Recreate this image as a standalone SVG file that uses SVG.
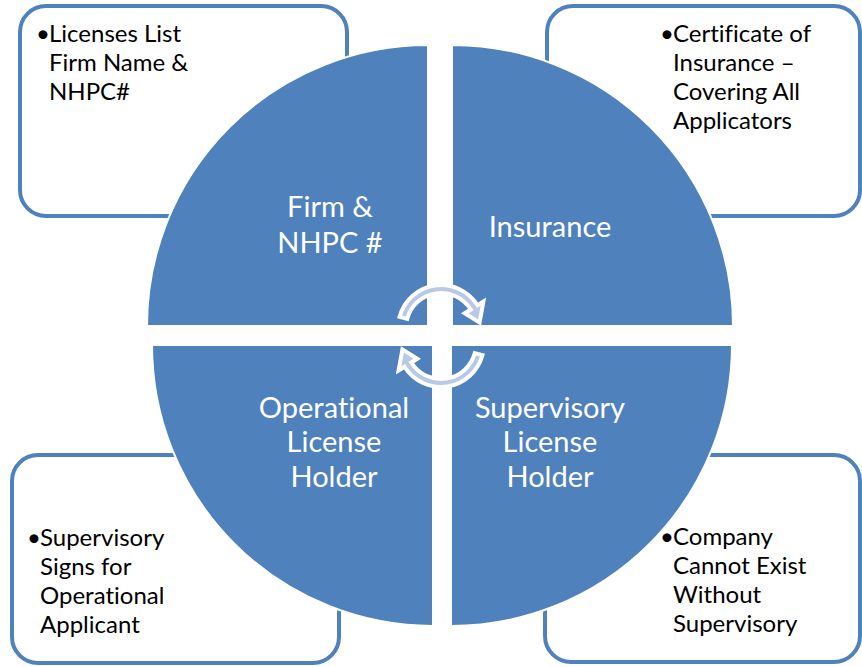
<svg xmlns="http://www.w3.org/2000/svg" width="862" height="667" viewBox="0 0 862 667">
<style>
.box{fill:#FFFFFF;stroke:#4F81BD;stroke-width:4}
.quad{fill:#4F81BD;stroke:#FFFFFF;stroke-width:2}
.arrow{fill:#B9C9E4;stroke:#FFFFFF;stroke-width:4;stroke-linejoin:miter}
.btxt{font-family:Lato,"Liberation Sans",sans-serif;font-size:24px;fill:#000000;font-variant-ligatures:none}
.qtxt{font-family:Lato,"Liberation Sans",sans-serif;font-size:29px;fill:#FFFFFF;text-anchor:middle;font-variant-ligatures:none}
</style>
<rect width="862" height="667" fill="#FFFFFF"/>
<g id="box-firm"><rect class="box" x="20" y="6" width="327" height="210" rx="26"/></g>
<g id="box-insurance"><rect class="box" x="547" y="6" width="313" height="210" rx="26"/></g>
<g id="box-operational"><rect class="box" x="12" y="455" width="327" height="208" rx="26"/></g>
<g id="box-supervisory"><rect class="box" x="545" y="455" width="315" height="207" rx="26"/></g>
<g id="quad-firm"><path class="quad" d="M428,326 L147,326 A281,281 0 0 1 428,45 Z"/></g>
<g id="quad-insurance"><path class="quad" d="M452,326 L452,45 A281,281 0 0 1 733,326 Z"/></g>
<g id="quad-supervisory"><path class="quad" d="M451,345 L732,345 A281,281 0 0 1 451,626 Z"/></g>
<g id="quad-operational"><path class="quad" d="M433,345 L433,626 A281,281 0 0 1 152,345 Z"/></g>
<g id="connectors">
<path class="arrow" d="M399.5,316.9 A43,43 0 0 1 477.5,305.2 L483.4,301.5 L479.6,322.6 L464.7,313.2 L470.7,309.5 A35,35 0 0 0 407.2,318.9 Z"/>
<path class="arrow" transform="rotate(180 441 336)" d="M399.5,316.9 A43,43 0 0 1 477.5,305.2 L483.4,301.5 L479.6,322.6 L464.7,313.2 L470.7,309.5 A35,35 0 0 0 407.2,318.9 Z"/>
</g>
<g id="labels">
<text class="qtxt" x="330" y="217">Firm &amp;</text>
<text class="qtxt" x="330" y="253">NHPC #</text>
<text class="qtxt" x="550" y="237">Insurance</text>
<text class="qtxt" x="334" y="418">Operational</text>
<text class="qtxt" x="334" y="452">License</text>
<text class="qtxt" x="334" y="487">Holder</text>
<text class="qtxt" x="550" y="418">Supervisory</text>
<text class="qtxt" x="550" y="452">License</text>
<text class="qtxt" x="550" y="487">Holder</text>
</g>
<g id="box-texts">
<text class="btxt" x="36" y="42">•</text>
<text class="btxt" y="42"><tspan x="49">Licenses List</tspan><tspan x="49" dy="29">Firm Name &amp;</tspan><tspan x="49" dy="29">NHPC#</tspan></text>
<text class="btxt" x="660" y="42">•</text>
<text class="btxt" y="42"><tspan x="673">Certificate of</tspan><tspan x="673" dy="29">Insurance –</tspan><tspan x="673" dy="29">Covering All</tspan><tspan x="673" dy="29">Applicators</tspan></text>
<text class="btxt" x="27" y="546">•</text>
<text class="btxt" y="546"><tspan x="40">Supervisory</tspan><tspan x="40" dy="29">Signs for</tspan><tspan x="40" dy="29">Operational</tspan><tspan x="40" dy="29">Applicant</tspan></text>
<text class="btxt" x="660" y="545">•</text>
<text class="btxt" y="545"><tspan x="673">Company</tspan><tspan x="673" dy="29">Cannot Exist</tspan><tspan x="673" dy="29">Without</tspan><tspan x="673" dy="29">Supervisory</tspan></text>
</g>
</svg>
